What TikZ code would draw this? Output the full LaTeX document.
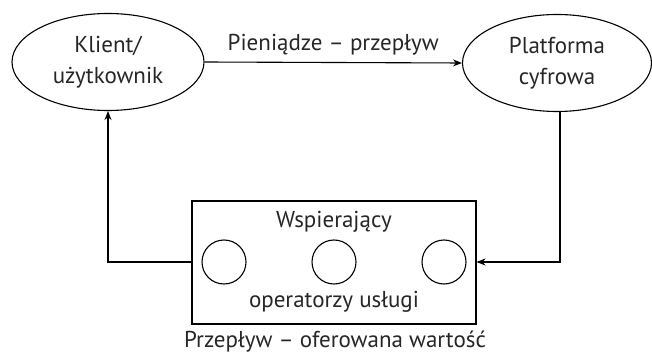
\documentclass[tikz,border=0pt]{standalone}
\usepackage{fontspec}
\setmainfont{PT Sans}
\usetikzlibrary{arrows.meta,shapes.geometric}
\begin{document}
\begin{tikzpicture}[x=1pt,y=-1pt,
  line width=1.1pt,
  every node/.style={font=\fontsize{23}{31}\selectfont, text=black!85},
  oval/.style={draw, ellipse, minimum width=192pt, minimum height=97pt, align=center, inner sep=0pt},
  opbox/.style={draw, minimum width=284pt, minimum height=123pt, inner sep=0pt},
  op/.style={draw, circle, minimum size=44pt, inner sep=0pt},
  arr/.style={-{Stealth[length=9pt,width=7pt]}}]
\useasboundingbox (0,0) rectangle (652,355);
\node[oval] (k) at (108,62) {Klient/\\użytkownik};
\node[oval, minimum width=189pt] (p) at (557,63) {Platforma\\cyfrowa};
\node[opbox] (r) at (334,262.5) {};
\node[op] (c1) at (224,262) {};
\node[op] (c2) at (334,262) {};
\node[op] (c3) at (444,262) {};
\node (w) at (334,222) {Wspierający};
\node (o) at (334,302) {operatorzy usługi};
\node (f) at (335,342) {Przepływ – oferowana wartość};
\draw[arr] (k.east) -- node[above=3pt] {Pieniądze – przepływ} (p.west);
\coordinate (pl) at (560,262);
\coordinate (kl) at (108,262);
\draw[arr] (p.south -| pl) -- (pl) -- (r.east |- pl);
\draw[arr] (r.west |- kl) -- (kl) -- (k.south);
\end{tikzpicture}
\end{document}
